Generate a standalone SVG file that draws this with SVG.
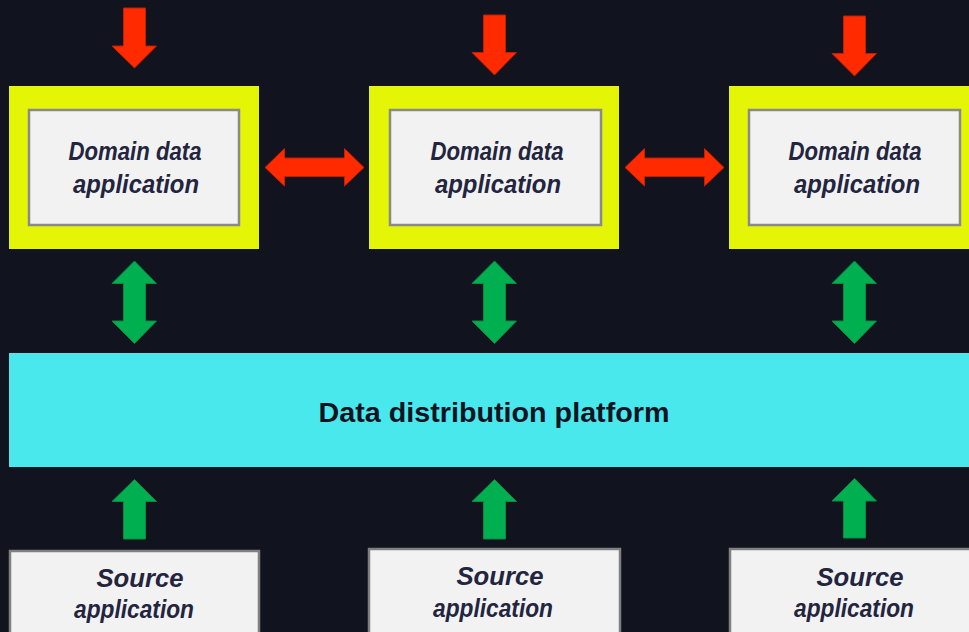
<svg xmlns="http://www.w3.org/2000/svg" width="969" height="632" viewBox="0 0 969 632">
  <style>
    .bg { fill: #11131e; }
    .frame { fill: #e5f506; }
    .inner { fill: #f2f2f2; stroke: #8a8a8a; stroke-width: 2.5; }
    .src { fill: #f2f2f2; stroke: #808080; stroke-width: 2.5; }
    .platform { fill: #48e8ec; }
    .lbl { font-family: "Liberation Sans", Arial, sans-serif; font-weight: bold; font-style: italic; font-size: 25px; fill: #23253f; text-anchor: middle; }
    .srclbl { font-family: "Liberation Sans", Arial, sans-serif; font-weight: bold; font-style: italic; font-size: 26px; fill: #23253f; text-anchor: middle; }
    .plbl { font-family: "Liberation Sans", Arial, sans-serif; font-weight: bold; font-size: 28px; fill: #111322; text-anchor: middle; }
    .red { fill: #ff2a00; stroke: #c21f00; stroke-width: 1; }
    .green { fill: #00b050; stroke: #058c40; stroke-width: 1; }
  </style>
  <rect class="bg" x="0" y="0" width="969" height="632"/>

  <g id="domain1">
    <rect class="frame" x="9" y="86" width="250" height="163"/>
    <rect class="inner" x="29" y="110" width="210" height="115"/>
    <text class="lbl" x="135" y="160" textLength="133" lengthAdjust="spacingAndGlyphs">Domain data</text>
    <text class="lbl" x="136" y="193" textLength="126" lengthAdjust="spacingAndGlyphs">application</text>
  </g>
  <g id="domain2">
    <rect class="frame" x="369" y="86" width="250" height="163"/>
    <rect class="inner" x="390" y="110" width="211" height="115"/>
    <text class="lbl" x="497" y="160" textLength="133" lengthAdjust="spacingAndGlyphs">Domain data</text>
    <text class="lbl" x="498" y="193" textLength="126" lengthAdjust="spacingAndGlyphs">application</text>
  </g>
  <g id="domain3">
    <rect class="frame" x="729" y="86" width="245" height="163"/>
    <rect class="inner" x="749" y="110" width="211" height="115"/>
    <text class="lbl" x="855" y="160" textLength="133" lengthAdjust="spacingAndGlyphs">Domain data</text>
    <text class="lbl" x="857" y="193" textLength="126" lengthAdjust="spacingAndGlyphs">application</text>
  </g>

  <g id="platform">
    <rect class="platform" x="9" y="353" width="965" height="114"/>
    <text class="plbl" x="494" y="422" textLength="351" lengthAdjust="spacingAndGlyphs">Data distribution platform</text>
  </g>

  <g id="source1">
    <rect class="src" x="10" y="551" width="249" height="100"/>
    <text class="srclbl" x="140" y="587" textLength="87" lengthAdjust="spacingAndGlyphs">Source</text>
    <text class="srclbl" x="134" y="618" textLength="120" lengthAdjust="spacingAndGlyphs">application</text>
  </g>
  <g id="source2">
    <rect class="src" x="369" y="549" width="251" height="100"/>
    <text class="srclbl" x="500" y="585" textLength="87" lengthAdjust="spacingAndGlyphs">Source</text>
    <text class="srclbl" x="493" y="617" textLength="120" lengthAdjust="spacingAndGlyphs">application</text>
  </g>
  <g id="source3">
    <rect class="src" x="730" y="549" width="250" height="100"/>
    <text class="srclbl" x="860" y="586" textLength="87" lengthAdjust="spacingAndGlyphs">Source</text>
    <text class="srclbl" x="854" y="617" textLength="120" lengthAdjust="spacingAndGlyphs">application</text>
  </g>

  <g id="connectors">
    <!-- red input arrows -->
    <polygon class="red" points="123.5,8 145.5,8 145.5,46 156.5,46 134.5,68 112,46 123.5,46"/>
    <polygon class="red" points="483.5,15 505.5,15 505.5,52.5 516.5,52.5 494.5,75 472,52.5 483.5,52.5"/>
    <polygon class="red" points="843.5,16 865.5,16 865.5,53.5 876.5,53.5 854.5,76 832,53.5 843.5,53.5"/>
    <!-- red horizontal double arrows -->
    <polygon class="red" points="265,167.5 284.5,148.5 284.5,158 344.5,158 344.5,148.5 364,167.5 344.5,186 344.5,176.5 284.5,176.5 284.5,186"/>
    <polygon class="red" points="625,167.5 644.5,148.5 644.5,158 704.5,158 704.5,148.5 724,167.5 704.5,186 704.5,176.5 644.5,176.5 644.5,186"/>
    <!-- green vertical double arrows -->
    <polygon class="green" points="134.5,261 156.5,283.5 145.5,283.5 145.5,321 156.5,321 134.5,343.5 112,321 123.5,321 123.5,283.5 112,283.5"/>
    <polygon class="green" points="494.5,261 516.5,283.5 505.5,283.5 505.5,321 516.5,321 494.5,343.5 472,321 483.5,321 483.5,283.5 472,283.5"/>
    <polygon class="green" points="854.5,261 876.5,283.5 865.5,283.5 865.5,321 876.5,321 854.5,343.5 832,321 843.5,321 843.5,283.5 832,283.5"/>
    <!-- green up arrows -->
    <polygon class="green" points="134.5,479.5 156.5,501.5 145.5,501.5 145.5,539 123.5,539 123.5,501.5 112,501.5"/>
    <polygon class="green" points="494.5,479.5 516.5,501.5 505.5,501.5 505.5,539 483.5,539 483.5,501.5 472,501.5"/>
    <polygon class="green" points="854.5,478.5 876.5,501 865.5,501 865.5,538 843.5,538 843.5,501 832,501"/>
  </g>
</svg>
